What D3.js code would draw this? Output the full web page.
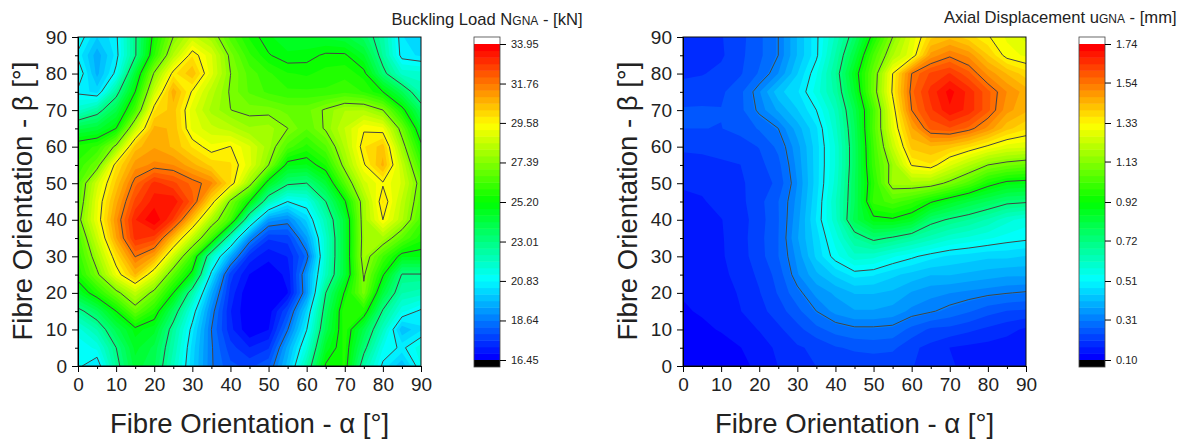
<!DOCTYPE html>
<html>
<head>
<meta charset="utf-8">
<script src="https://d3js.org/d3.v7.min.js"></script>
<style>
  html, body { margin: 0; background: #fff; }
  text { font-family: "Liberation Sans", Arial, sans-serif; fill: #222; }
</style>
</head>
<body>
<svg id="chart" width="1190" height="439"></svg>
<script>
// fibre angles on the grid, alpha left to right, beta top to bottom
const alphaGrid = d3.range(0, 95, 5)
const axisTicks = d3.range(0, 100, 10)
const minorTicks = d3.range(5, 95, 10)

// rows are beta = 90, 85 ... 0
const bucklingLoad = [
  [21.2, 20.1, 20.7, 22.9, 25.5, 27.4, 28.6, 27.9, 26.5, 25.5, 24.9, 24.6, 24.5, 24.4, 24.2, 23.6, 22.4, 20.5, 20.1],
  [20.7, 19.5, 20.6, 22.9, 25.9, 28.2, 29.9, 28.9, 27.2, 26.0, 25.25, 24.9, 25.0, 25.3, 25.3, 24.5, 22.6, 20.6, 20.4],
  [21.3, 19.6, 21.0, 24.3, 27.5, 29.8, 30.6, 29.0, 27.4, 26.5, 26.0, 25.6, 25.5, 25.7, 25.8, 25.4, 23.3, 21.8, 21.7],
  [20.7, 20.3, 22.6, 25.2, 28.6, 30.9, 29.5, 28.3, 27.3, 26.6, 26.2, 26.0, 26.0, 26.0, 26.2, 25.9, 25.2, 23.8, 22.2],
  [21.8, 22.6, 24.0, 26.3, 29.9, 30.5, 29.0, 28.0, 27.4, 27.2, 27.2, 26.9, 26.9, 27.5, 28.1, 28.1, 27.4, 25.5, 23.5],
  [24.0, 24.3, 25.2, 28.4, 30.8, 30.6, 29.1, 28.6, 28.3, 27.8, 27.9, 27.4, 26.7, 27.5, 28.5, 29.5, 29.3, 27.0, 24.5],
  [25.7, 26.0, 27.6, 30.5, 31.0, 30.6, 29.9, 29.3, 29.6, 28.9, 27.9, 26.5, 25.8, 26.6, 28.2, 29.9, 30.5, 27.8, 25.4],
  [26.0, 27.0, 29.9, 31.2, 31.5, 31.4, 30.8, 30.2, 30.0, 29.0, 27.4, 24.9, 24.8, 25.6, 27.7, 29.5, 30.8, 28.5, 26.2],
  [26.5, 28.7, 30.4, 32.0, 33.0, 32.6, 32.0, 31.5, 30.0, 27.8, 24.7, 23.2, 23.0, 24.3, 26.6, 28.7, 29.5, 28.8, 27.0],
  [26.7, 29.1, 30.9, 32.6, 33.4, 33.5, 32.3, 30.0, 27.2, 25.2, 22.2, 20.83, 21.2, 23.0, 25.1, 27.9, 30.0, 28.4, 26.8],
  [27.1, 29.2, 31.3, 33.2, 33.95, 32.8, 30.5, 28.0, 26.3, 21.9, 19.2, 18.9, 20.2, 22.2, 24.3, 27.9, 29.58, 28.2, 26.4],
  [26.4, 28.6, 31.0, 33.0, 32.7, 30.6, 28.4, 26.2, 22.0, 19.0, 17.6, 17.7, 19.3, 21.8, 24.3, 27.8, 28.0, 26.7, 25.7],
  [26.0, 27.9, 30.0, 31.8, 31.0, 28.6, 26.2, 22.0, 19.5, 17.4, 16.9, 17.2, 18.4, 21.8, 24.3, 27.9, 26.3, 24.9, 24.9],
  [25.6, 27.2, 29.2, 30.7, 29.0, 26.7, 24.9, 20.6, 17.7, 16.8, 16.6, 16.9, 19.2, 22.0, 24.3, 27.5, 25.3, 22.95, 22.95],
  [24.5, 25.7, 27.1, 28.4, 27.1, 25.2, 22.4, 19.5, 17.4, 16.45, 16.5, 16.8, 19.1, 23.0, 25.3, 27.2, 24.2, 22.3, 22.1],
  [22.7, 23.7, 25.2, 26.9, 25.7, 23.6, 21.2, 18.9, 17.2, 16.45, 16.6, 17.9, 20.2, 23.5, 25.9, 25.7, 22.9, 21.3, 20.7],
  [21.4, 22.3, 23.9, 25.0, 24.6, 22.6, 20.6, 18.64, 17.3, 16.5, 16.8, 18.6, 20.8, 23.9, 25.8, 24.0, 22.0, 19.8, 20.4],
  [20.9, 21.3, 23.0, 24.6, 24.0, 22.3, 20.3, 18.7, 17.7, 17.2, 17.5, 19.5, 21.5, 24.6, 25.7, 23.3, 21.2, 20.7, 21.4],
  [20.95, 20.4, 22.7, 24.3, 23.8, 22.0, 20.2, 18.7, 18.0, 17.8, 18.2, 19.9, 22.3, 25.3, 25.6, 22.4, 20.7, 19.8, 21.2]
]

const axialDisplacement = [
  [.18, .185, .20, .225, .262, .31, .41, .50, .62, .76, .95, 1.13, 1.27, 1.39, 1.42, 1.38, 1.335, 1.29, 1.25],
  [.18, .19, .197, .228, .262, .31, .41, .50, .65, .82, 1.03, 1.19, 1.29, 1.48, 1.53, 1.49, 1.40, 1.31, 1.29],
  [.195, .20, .212, .232, .275, .34, .44, .54, .68, .88, 1.08, 1.33, 1.54, 1.61, 1.64, 1.58, 1.49, 1.43, 1.38],
  [.22, .225, .23, .26, .335, .43, .47, .56, .66, .85, 1.09, 1.34, 1.56, 1.65, 1.72, 1.66, 1.58, 1.50, 1.45],
  [.24, .24, .238, .26, .32, .38, .44, .51, .62, .80, 1.03, 1.30, 1.54, 1.63, 1.70, 1.66, 1.58, 1.48, 1.44],
  [.237, .237, .236, .245, .275, .31, .39, .47, .60, .78, 1.04, 1.28, 1.46, 1.58, 1.60, 1.56, 1.49, 1.41, 1.37],
  [.208, .21, .215, .225, .238, .28, .36, .46, .58, .77, 1.02, 1.23, 1.41, 1.43, 1.41, 1.37, 1.32, 1.28, 1.27],
  [.19, .192, .197, .202, .226, .26, .35, .46, .58, .77, 1.01, 1.16, 1.335, 1.36, 1.27, 1.20, 1.13, 1.10, 1.08],
  [.173, .176, .185, .197, .218, .245, .34, .46, .59, .78, .98, 1.17, 1.18, 1.17, 1.11, 1.04, .95, .90, .89],
  [.16, .165, .18, .193, .225, .27, .35, .47, .61, .78, 1.0, 1.04, 1.0, .93, .87, .82, .78, .74, .73],
  [.15, .157, .167, .187, .221, .268, .36, .48, .60, .80, .90, .91, .87, .75, .71, .68, .64, .59, .56],
  [.145, .15, .165, .188, .225, .27, .37, .46, .56, .68, .74, .71, .67, .63, .59, .57, .55, .53, .52],
  [.14, .148, .164, .187, .222, .27, .35, .45, .53, .60, .59, .55, .52, .49, .47, .46, .45, .45, .44],
  [.138, .145, .16, .18, .21, .25, .335, .40, .45, .49, .48, .45, .43, .41, .41, .40, .39, .38, .38],
  [.137, .14, .153, .172, .20, .24, .295, .35, .38, .41, .41, .40, .37, .35, .34, .33, .32, .312, .305],
  [.13, .138, .149, .167, .19, .22, .26, .31, .35, .37, .37, .36, .33, .315, .295, .275, .25, .235, .23],
  [.118, .127, .137, .153, .17, .195, .225, .26, .285, .30, .30, .295, .26, .23, .225, .21, .195, .18, .162],
  [.105, .11, .12, .133, .153, .175, .198, .21, .233, .243, .25, .245, .21, .192, .168, .16, .155, .15, .15],
  [.10, .104, .112, .124, .143, .169, .186, .203, .208, .212, .21, .208, .205, .185, .172, .16, .15, .15, .15]
]

const loadTicks = [16.45, 18.64, 20.83, 23.01, 25.20, 27.39, 29.58, 31.76, 33.95]
const dispTicks = [0.10, 0.31, 0.51, 0.72, 0.92, 1.13, 1.33, 1.54, 1.74]

const svg = d3.select("#chart")
const bandsPerTick = 6

// Origin style rainbow
const rainbow = d3.scaleLinear()
  .domain([0, .25, .5, .75, 1])
  .range(["#0000ff", "#00ffff", "#00ff00", "#ffff00", "#ff0000"])

drawPanel({ id: "load", x0: 78, bar: 474, values: bucklingLoad, ticks: loadTicks, titleX: 391.5, titleY: 25,
  title: ["Buckling Load N", "GNA", " - [kN]"] })
drawPanel({ id: "disp", x0: 683, bar: 1079, values: axialDisplacement, ticks: dispTicks, titleX: 944, titleY: 23,
  title: ["Axial Displacement u", "GNA", " - [mm]"] })

function drawPanel(p) {
  const x = d3.scaleLinear().domain([0, 90]).range([p.x0, p.x0 + 343])
  const y = d3.scaleLinear().domain([0, 90]).range([366, 37])
  const lo = p.ticks[0]
  const hi = p.ticks[p.ticks.length - 1]
  const nBands = (p.ticks.length - 1) * bandsPerTick
  const levels = d3.range(nBands).map(i => lo + (hi - lo) * i / nBands)
  const lineLevels = p.ticks.slice(1, -1)
  const bandColor = i => rainbow(i / (nBands - 1))

  svg.append("clipPath").attr("id", "clip-" + p.id)
    .append("rect").attr("x", x(0)).attr("y", y(90))
    .attr("width", x(90) - x(0)).attr("height", y(0) - y(90))

  // contour generator works in grid cells, cell centres sit at i + .5
  const contours = d3.contours()
    .size([alphaGrid.length, alphaGrid.length])
    .smooth(true)
  const flat = p.values.flat()
  const path = d3.geoPath(d3.geoTransform({
    point(cx, cy) {
      this.stream.point(x((cx - .5) * 5), y(90 - (cy - .5) * 5))
    }
  }))

  const plot = svg.append("g").attr("clip-path", "url(#clip-" + p.id + ")")
  plot.append("g").selectAll("path")
    .data(levels)
    .join("path")
    .attr("d", d => path(contours.contour(flat, d)))
    .attr("fill", (d, i) => bandColor(i))
  plot.append("g").selectAll("path")
    .data(lineLevels)
    .join("path")
    .attr("d", d => path(contours.contour(flat, d)))
    .attr("fill", "none")
    .attr("stroke", "#444")
    .attr("stroke-width", 1)

  // frame
  svg.append("rect").attr("x", x(0)).attr("y", y(90))
    .attr("width", x(90) - x(0)).attr("height", y(0) - y(90))
    .attr("fill", "none").attr("stroke", "#111").attr("stroke-width", 1)

  // axes, minor ticks get their own group or the join would eat them
  svg.append("g").attr("transform", "translate(0,366)")
    .call(d3.axisBottom(x).tickValues(minorTicks).tickSize(3).tickFormat(""))
  svg.append("g").attr("transform", "translate(" + x(0) + ",0)")
    .call(d3.axisLeft(y).tickValues(minorTicks).tickSize(3).tickFormat(""))
  const xAxisG = svg.append("g").attr("transform", "translate(0,366)")
    .call(d3.axisBottom(x).tickValues(axisTicks).tickSize(6).tickPadding(6).tickFormat(d3.format("d")))
  const yAxisG = svg.append("g").attr("transform", "translate(" + x(0) + ",0)")
    .call(d3.axisLeft(y).tickValues(axisTicks).tickSize(6).tickPadding(5).tickFormat(d3.format("d")))
  xAxisG.selectAll("text").style("font-size", "19px").style("font-family", "Liberation Sans")
  yAxisG.selectAll("text").style("font-size", "19px").style("font-family", "Liberation Sans")

  svg.append("text")
    .attr("x", x(45)).attr("y", 432.5)
    .attr("text-anchor", "middle").style("font-size", "27.5px")
    .text("Fibre Orientation - α [°]")
  svg.append("text")
    .attr("transform", "translate(" + (x(0) - 46) + ",201) rotate(-90)")
    .attr("text-anchor", "middle").style("font-size", "27.5px")
    .text("Fibre Orientation - β [°]")

  // colour bar
  const barW = 26
  const bar = d3.scaleLinear().domain([lo, hi]).range([360, 44])
  const step = (hi - lo) / nBands
  const legend = svg.append("g")
  legend.selectAll("rect.band")
    .data(levels)
    .join("rect")
    .attr("class", "band")
    .attr("x", p.bar).attr("width", barW)
    .attr("y", d => bar(d + step))
    .attr("height", d => bar(d) - bar(d + step) + .5)
    .attr("fill", (d, i) => bandColor(i))
  legend.append("rect").attr("x", p.bar).attr("width", barW)
    .attr("y", 360).attr("height", 7).attr("fill", "#000")
  legend.append("rect").attr("x", p.bar).attr("width", barW)
    .attr("y", 37).attr("height", 7).attr("fill", "#fff")
  legend.append("rect").attr("x", p.bar).attr("width", barW)
    .attr("y", 37).attr("height", 330)
    .attr("fill", "none").attr("stroke", "#444").attr("stroke-width", .8)
  const barAxis = legend.append("g").attr("transform", "translate(" + (p.bar + barW) + ",0)")
    .call(d3.axisRight(bar).tickValues(p.ticks).tickSize(6).tickPadding(5).tickFormat(d3.format(".2f")))
  barAxis.select(".domain").remove()
  barAxis.selectAll("text").style("font-size", "11px").style("font-family", "Liberation Sans")

  const t = svg.append("text").attr("x", p.titleX).attr("y", p.titleY).style("font-size", "16.6px")
  t.append("tspan").text(p.title[0])
  t.append("tspan").style("font-size", "12px").text(p.title[1])
  t.append("tspan").text(p.title[2])
}
</script>
</body>
</html>
